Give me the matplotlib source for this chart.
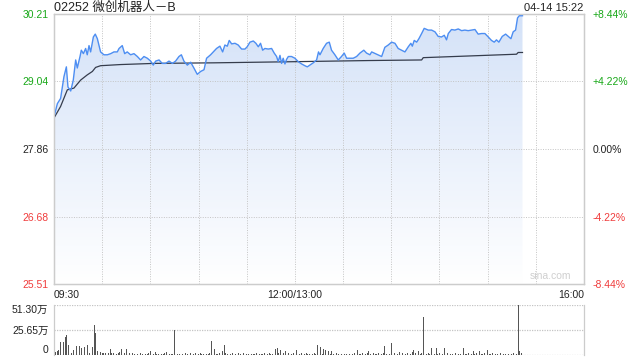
import numpy as np
import matplotlib
matplotlib.use("Agg")
import matplotlib.pyplot as plt
from matplotlib.colors import LinearSegmentedColormap

plt.rcParams['font.family'] = ['Liberation Sans', 'Noto Sans CJK SC', 'DejaVu Sans']

# ---- data (minutes since 09:30, lunch break removed) ----
title = "02252 微创机器人－B"
stamp = "04-14 15:22"
prev_close = 27.86

price_min = [0, 2.1, 4.1, 6.2, 7.7, 8.7, 10.4, 12.0, 13.5, 14.5, 16.2, 17.0, 18.3, 19.7,
             20.7, 21.8, 22.8, 24.5, 25.7, 27.0, 29.0, 31.1, 33.2, 35.3, 37.3, 39.4, 40.5,
             42.5, 44.0, 45.6, 47.7, 49.8, 51.9, 53.9, 56.0, 58.1, 60.2, 61.8, 63.3, 65.4,
             67.4, 69.5, 71.6, 73.7, 75.7, 77.8, 79.3, 80.9, 83.0, 85.1, 87.1, 89.2, 91.3,
             93.4, 95.0, 97.5, 99.2, 101.2, 103.3, 105.0, 106.4, 107.9, 109.1, 110.6, 112.7,
             114.7, 116.8, 118.9, 120.3, 122.0, 124.1, 125.7, 127.2, 128.6, 129.9, 131.3,
             133.4, 135.5, 137.1, 138.6, 139.6, 140.7, 141.7, 142.7, 143.8, 144.8, 145.9,
             147.9, 150.0, 152.1, 154.2, 156.2, 157.7, 159.3, 161.4, 163.5, 164.7, 165.6,
             167.6, 169.7, 171.4, 172.8, 174.9, 177.0, 179.0, 180.7, 182.2, 184.2, 186.3,
             188.4, 190.5, 192.9, 194.6, 196.7, 197.8, 200.9, 204.0, 206.0, 208.1, 210.2,
             212.3, 214.3, 216.4, 218.5, 220.6, 222.2, 223.1, 224.3, 225.8, 227.2, 228.9,
             230.5, 233.0, 235.1, 237.2, 239.2, 241.3, 243.0, 244.4, 245.5, 247.5, 249.6,
             251.7, 253.8, 255.8, 257.9, 260.0, 262.1, 264.1, 266.2, 268.3, 270.4, 272.4,
             274.1, 275.5, 277.0, 279.1, 281.2, 282.8, 284.5, 285.9, 287.4, 288.6, 289.7,
             291.7]
price_val = [28.42, 28.65, 28.74, 29.12, 29.29, 28.94, 28.87, 29.06, 29.41, 29.27, 29.47, 29.58,
             29.52, 29.61, 29.50, 29.66, 29.55, 29.81, 29.86, 29.78, 29.55, 29.50, 29.50, 29.52,
             29.55, 29.55, 29.61, 29.66, 29.52, 29.55, 29.50, 29.52, 29.47, 29.41, 29.47, 29.44,
             29.39, 29.32, 29.39, 29.41, 29.35, 29.35, 29.39, 29.35, 29.39, 29.47, 29.50, 29.39,
             29.32, 29.37, 29.27, 29.16, 29.21, 29.24, 29.44, 29.50, 29.55, 29.61, 29.65, 29.55,
             29.67, 29.65, 29.75, 29.69, 29.70, 29.67, 29.60, 29.60, 29.64, 29.72, 29.74, 29.70,
             29.64, 29.70, 29.58, 29.61, 29.60, 29.61, 29.53, 29.47, 29.38, 29.49, 29.35, 29.44,
             29.34, 29.42, 29.47, 29.47, 29.44, 29.38, 29.34, 29.31, 29.29, 29.32, 29.36, 29.41,
             29.55, 29.50, 29.61, 29.70, 29.72, 29.58, 29.50, 29.41, 29.47, 29.53, 29.44, 29.44,
             29.44, 29.47, 29.53, 29.58, 29.53, 29.50, 29.55, 29.51, 29.47, 29.63, 29.67, 29.72,
             29.70, 29.61, 29.58, 29.55, 29.64, 29.70, 29.65, 29.75, 29.72, 29.78, 29.87, 29.96,
             29.93, 29.93, 29.90, 29.82, 29.81, 29.84, 29.76, 29.87, 29.94, 29.93, 29.95, 29.92,
             29.93, 29.92, 29.93, 29.94, 29.86, 29.87, 29.87, 29.81, 29.75, 29.72, 29.76, 29.72,
             29.82, 29.86, 29.82, 29.78, 29.90, 29.93, 30.14, 30.18, 30.18]

avg_min = [0, 4.1, 8.3, 12.4, 16.6, 20.7, 23.9, 25.9, 29.0, 41.5, 62.2, 99.6, 150.0, 196.7,
           228.9, 229.9, 288.0, 289.0, 291.7]
avg_val = [28.40, 28.60, 28.89, 28.92, 29.06, 29.15, 29.21, 29.28, 29.31, 29.33, 29.35, 29.36,
           29.38, 29.40, 29.41, 29.45, 29.51, 29.54, 29.54]

# volume per minute, in 万 shares
volume = [6.8, 3.0, 4.4, 5.0, 13.7, 5.8, 13.7, 18.8, 20.5, 10.3,
          5.0, 1.7, 5.0, 5.0, 9.2, 23.9, 9.2, 6.8, 35.9, 8.5,
          11.3, 10.3, 2.4, 5.8, 8.5, 30.8, 22.2, 4.4, 5.8, 3.4,
          2.4, 2.4, 2.4, 4.4, 1.7, 5.8, 1.7, 2.0, 3.0, 1.5,
          1.7, 3.0, 5.8, 2.0, 2.0, 5.8, 2.0, 2.0, 4.4, 2.0,
          1.5, 2.0, 1.5, 13.7, 2.5, 1.5, 1.2, 1.0, 1.5, 2.0,
          4.1, 2.0, 1.5, 3.4, 1.2, 1.5, 2.0, 1.0, 1.5, 2.0,
          3.4, 1.5, 1.0, 1.5, 1.2, 25.6, 2.0, 1.5, 1.0, 2.0,
          1.5, 1.2, 2.0, 1.5, 1.0, 2.0, 1.5, 1.2, 2.0, 1.5,
          1.2, 2.0, 1.5, 1.5, 2.0, 1.2, 1.5, 2.0, 14.7, 1.5,
          6.2, 1.5, 1.2, 2.0, 1.5, 4.4, 10.3, 2.0, 1.5, 1.0,
          1.5, 2.0, 1.2, 1.0, 1.5, 2.0, 1.2, 1.5, 2.0, 1.0,
          1.5, 1.2, 2.0, 1.5, 1.0, 1.5, 2.0, 1.2, 1.5, 1.0,
          1.5, 2.0, 1.2, 1.5, 2.0, 1.5, 1.2, 2.0, 5.8, 7.5,
          2.0, 5.0, 1.5, 2.0, 4.4, 1.5, 2.0, 1.2, 1.5, 2.0,
          1.5, 5.0, 1.2, 1.5, 2.0, 1.0, 1.5, 2.0, 1.2, 1.5,
          5.0, 1.5, 2.0, 1.2, 10.3, 2.0, 8.5, 1.5, 6.2, 5.0,
          1.5, 4.4, 1.2, 4.1, 1.5, 1.0, 2.0, 1.5, 1.2, 1.5,
          2.0, 1.0, 1.5, 2.0, 1.2, 1.5, 1.0, 2.0, 1.5, 5.0,
          1.5, 1.2, 2.0, 1.0, 1.5, 2.0, 4.1, 1.5, 1.2, 2.0,
          1.5, 1.0, 2.0, 1.5, 1.2, 2.0, 9.2, 1.5, 2.0, 1.2,
          12.6, 1.5, 2.0, 1.0, 1.5, 3.4, 1.5, 2.0, 1.2, 1.5,
          2.0, 1.5, 1.2, 3.4, 5.0, 2.0, 5.0, 4.4, 1.5, 2.0,
          39.3, 5.0, 1.5, 2.0, 1.5, 7.5, 2.0, 1.5, 6.8, 1.5,
          2.0, 5.0, 1.5, 7.5, 7.5, 2.0, 10.3, 1.5, 1.2, 1.5,
          2.0, 1.5, 1.0, 1.5, 2.0, 7.5, 1.5, 1.2, 2.0, 1.5,
          1.0, 4.4, 1.5, 2.0, 4.4, 4.4, 1.5, 1.2, 2.0, 4.4,
          5.0, 1.5, 1.0, 2.0, 4.4, 1.5, 1.2, 1.5, 2.0, 1.5,
          1.2, 1.5, 2.0, 1.5, 2.7, 1.5, 2.0, 5.0, 1.5, 51.3,
          4.4, 2.0]

price_ticks = [25.51, 26.68, 27.86, 29.04, 30.21]
price_labels = ["25.51", "26.68", "27.86", "29.04", "30.21"]
pct_labels = ["-8.44%", "-4.22%", "0.00%", "+4.22%", "+8.44%"]
tick_colors = ["#f03c3c", "#f03c3c", "#222222", "#18a818", "#18a818"]
time_ticks = [0, 150, 330]
time_labels = ["09:30", "12:00/13:00", "16:00"]
vol_ticks = [0, 25.65, 51.30]
vol_labels = ["0", "25.65万", "51.30万"]

GRID = "#c4c4c4"
SPINE = "#cccccc"

fig = plt.figure(figsize=(6.4, 3.6), dpi=100)
ax = fig.add_axes([54 / 640, 1 - 284 / 360, 530 / 640, 270 / 360])
axv = fig.add_axes([54 / 640, 1 - 355 / 360, 530 / 640, 50 / 360])

ymin, ymax = price_ticks[0], price_ticks[-1]
t = np.array(price_min)
p = np.array(price_val)

# gradient fill under the price line
cmap = LinearSegmentedColormap.from_list("fill", ["#ffffff", "#d4e2f8"])
grad = np.linspace(0, 1, 256).reshape(-1, 1)
im = ax.imshow(grad, extent=[0, 330, ymin, ymax], origin="lower", aspect="auto",
               cmap=cmap, zorder=1)
poly = ax.fill_between(t, p, ymin, facecolor="none", edgecolor="none")
im.set_clip_path(poly.get_paths()[0], transform=ax.transData)

for m in range(30, 330, 30):
    ax.axvline(m, color=GRID, lw=0.7, ls=(0, (1, 1.5)), zorder=2)
for y in price_ticks[1:-1]:
    ax.axhline(y, color=GRID, lw=0.7, ls=(0, (1, 1.5)), zorder=2)

ax.plot(t, p, color="#4d8ef2", lw=1.0, zorder=4)
ax.plot(avg_min, avg_val, color="#353c4c", lw=0.9, zorder=3)

ax.set_xlim(0, 330)
ax.set_ylim(ymin, ymax)
ax.set_yticks(price_ticks)
ax.set_yticklabels(price_labels)
ax.tick_params(axis="y", length=0, pad=4, labelsize=7.5)
for lab, c in zip(ax.get_yticklabels(), tick_colors):
    lab.set_color(c)

ax.set_xticks(time_ticks)
ax.set_xticklabels(time_labels)
ax.tick_params(axis="x", length=0, pad=4, labelsize=7.5, labelcolor="#222222")
xl = ax.get_xticklabels()
xl[0].set_ha("left")
xl[2].set_ha("right")

ax2 = ax.twinx()
ax2.set_ylim(ymin, ymax)
ax2.set_yticks(price_ticks)
ax2.set_yticklabels(pct_labels)
ax2.tick_params(axis="y", length=0, pad=6, labelsize=7.5)
for lab, c in zip(ax2.get_yticklabels(), tick_colors):
    lab.set_color(c)

for a in (ax, ax2):
    for s in a.spines.values():
        s.set_color(SPINE)
        s.set_linewidth(0.9)

ax.text(0.975, 0.012, "sina.com", transform=ax.transAxes, ha="right", va="bottom",
        fontsize=7.5, color="#cfcfcf")

fig.text(54 / 640, 1 - 8 / 360, title, ha="left", va="center", fontsize=9,
         color="#222222")
fig.text(583 / 640, 1 - 8 / 360, stamp, ha="right", va="center", fontsize=8,
         color="#222222")

# volume panel
axv.bar(np.arange(len(volume)), volume, width=0.45, color="#555555", zorder=3)
for y in vol_ticks:
    axv.axhline(y, color=GRID, lw=0.9, ls=(0, (1, 1)), zorder=1)
axv.set_xlim(0, 330)
axv.set_ylim(0, vol_ticks[-1])
axv.set_xticks([])
axv.set_yticks(vol_ticks)
axv.set_yticklabels(vol_labels)
axv.tick_params(axis="y", length=0, pad=4, labelsize=7.5, labelcolor="#222222")
vl = axv.get_yticklabels()
vl[0].set_va("bottom")
vl[2].set_va("top")
for side in ("top", "bottom"):
    axv.spines[side].set_visible(False)
for side in ("left", "right"):
    axv.spines[side].set_color(SPINE)
    axv.spines[side].set_linewidth(0.9)

fig.savefig("out.png", dpi=100)
